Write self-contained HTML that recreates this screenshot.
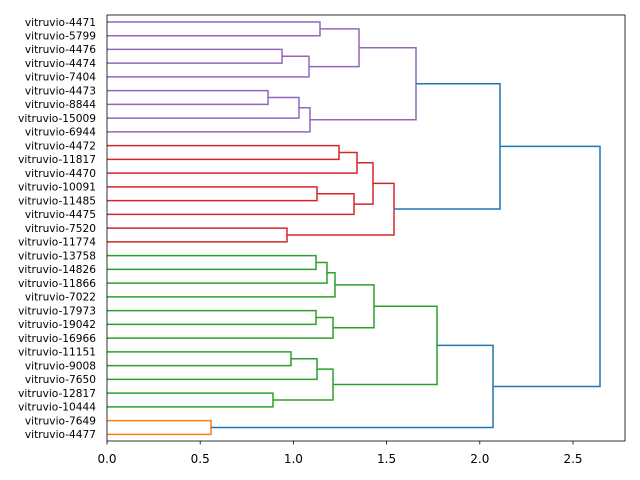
<!DOCTYPE html>
<html><head><meta charset="utf-8"><style>
body{margin:0;background:#fff;}
svg{display:block;font-family:"DejaVu Sans","Liberation Sans",sans-serif;}
</style></head><body>
<svg width="640" height="480" viewBox="0 0 640 480" xmlns="http://www.w3.org/2000/svg">
<rect width="640" height="480" fill="#fff"/>
<g fill="none" stroke-width="1.5">
<g stroke="#9467bd">
<path d="M107 22 H320 V35.7 H107"/>
<path d="M107 49.4 H282 V63.1 H107"/>
<path d="M282 56.3 H309 V76.9 H107"/>
<path d="M320 28.9 H359 V66.6 H309"/>
<path d="M107 90.6 H268 V104.4 H107"/>
<path d="M268 97.5 H299 V118.1 H107"/>
<path d="M299 107.8 H310 V131.9 H107"/>
<path d="M359 47.7 H416 V119.8 H310"/>
</g>
<g stroke="#d62728">
<path d="M107 145.6 H339 V159.4 H107"/>
<path d="M339 152.5 H357 V173.1 H107"/>
<path d="M107 186.9 H317 V200.6 H107"/>
<path d="M317 193.8 H354 V214.4 H107"/>
<path d="M357 162.8 H373 V204.1 H354"/>
<path d="M107 228.1 H287 V241.9 H107"/>
<path d="M373 183.4 H394 V235 H287"/>
</g>
<g stroke="#2ca02c">
<path d="M107 255.6 H316 V269.4 H107"/>
<path d="M316 262.5 H327 V283.1 H107"/>
<path d="M327 272.8 H335 V296.9 H107"/>
<path d="M107 310.6 H316 V324.4 H107"/>
<path d="M316 317.5 H333 V338.1 H107"/>
<path d="M335 284.9 H374 V327.8 H333"/>
<path d="M107 351.9 H291 V365.6 H107"/>
<path d="M291 358.8 H317 V379.4 H107"/>
<path d="M107 393.1 H273 V406.9 H107"/>
<path d="M317 369.1 H333 V400 H273"/>
<path d="M374 306.3 H437 V384.5 H333"/>
</g>
<path stroke="#ff7f0e" d="M107 420.6 H211 V434.4 H107"/>
<g stroke="#1f77b4">
<path d="M416 83.8 H500 V209 H394"/>
<path d="M437 345.4 H493 V427.5 H211"/>
<path d="M500 146.4 H600 V386.5 H493"/>
</g>
</g>
<rect x="107" y="15" width="518" height="426" fill="none" stroke="#000" stroke-width="0.8"/>
<g stroke="#000" stroke-width="0.8">
<path d="M107 441v3.5M200.2 441v3.5M293.4 441v3.5M386.6 441v3.5M479.8 441v3.5M573 441v3.5"/>
</g>
<g font-size="12" text-anchor="middle" fill="#000">
<text x="107" y="463">0.0</text><text x="200.2" y="463">0.5</text><text x="293.4" y="463">1.0</text>
<text x="386.6" y="463">1.5</text><text x="479.8" y="463">2.0</text><text x="573" y="463">2.5</text>
</g>
<g font-size="10.6" text-anchor="end" fill="#000">
<text x="96" y="25.8">vitruvio-4471</text>
<text x="96" y="39.5">vitruvio-5799</text>
<text x="96" y="53.2">vitruvio-4476</text>
<text x="96" y="66.9">vitruvio-4474</text>
<text x="96" y="80.7">vitruvio-7404</text>
<text x="96" y="94.4">vitruvio-4473</text>
<text x="96" y="108.2">vitruvio-8844</text>
<text x="96" y="121.9">vitruvio-15009</text>
<text x="96" y="135.7">vitruvio-6944</text>
<text x="96" y="149.4">vitruvio-4472</text>
<text x="96" y="163.2">vitruvio-11817</text>
<text x="96" y="176.9">vitruvio-4470</text>
<text x="96" y="190.7">vitruvio-10091</text>
<text x="96" y="204.4">vitruvio-11485</text>
<text x="96" y="218.2">vitruvio-4475</text>
<text x="96" y="231.9">vitruvio-7520</text>
<text x="96" y="245.7">vitruvio-11774</text>
<text x="96" y="259.4">vitruvio-13758</text>
<text x="96" y="273.2">vitruvio-14826</text>
<text x="96" y="286.9">vitruvio-11866</text>
<text x="96" y="300.7">vitruvio-7022</text>
<text x="96" y="314.4">vitruvio-17973</text>
<text x="96" y="328.2">vitruvio-19042</text>
<text x="96" y="341.9">vitruvio-16966</text>
<text x="96" y="355.7">vitruvio-11151</text>
<text x="96" y="369.4">vitruvio-9008</text>
<text x="96" y="383.2">vitruvio-7650</text>
<text x="96" y="396.9">vitruvio-12817</text>
<text x="96" y="410.7">vitruvio-10444</text>
<text x="96" y="424.4">vitruvio-7649</text>
<text x="96" y="438.2">vitruvio-4477</text>
</g>
</svg>
</body></html>
